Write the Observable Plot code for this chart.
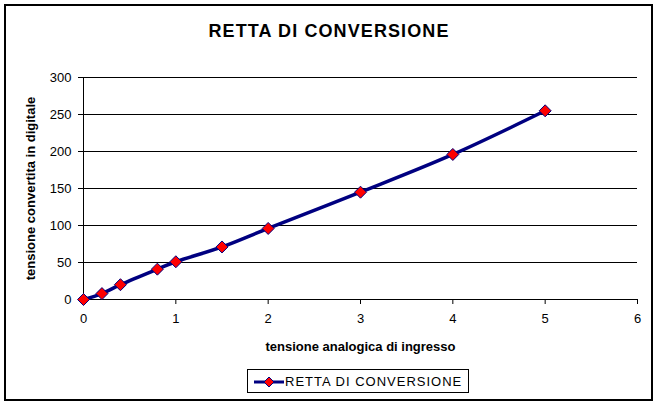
<!DOCTYPE html>
<html><head><meta charset="utf-8">
<script src="https://cdn.jsdelivr.net/npm/d3@7"></script>
<script src="https://cdn.jsdelivr.net/npm/@observablehq/plot@0.6"></script>
<style>
html,body{margin:0;padding:0;background:#fff;}
#wrap{position:relative;width:658px;height:405px;font-family:"Liberation Sans",Arial,sans-serif;}
#frame{position:absolute;left:4px;top:4px;width:645px;height:393px;border:2px solid #000;box-sizing:content-box;pointer-events:none;}
#title{position:absolute;left:0;width:658px;top:21px;text-align:center;font-weight:bold;font-size:18px;letter-spacing:1.1px;}
#legend{position:absolute;left:247px;top:369px;width:222px;height:24px;border:1px solid #000;box-sizing:border-box;font-size:13px;}
#legend svg{position:absolute;left:4px;top:4px;}
#legend span{position:absolute;left:37px;top:4px;letter-spacing:1px;}
#chart{position:absolute;left:0;top:0;}
</style></head>
<body><div id="wrap"><div id="chart"></div><div id="title">RETTA DI CONVERSIONE</div>
<div id="legend"><svg width="32" height="16"><line x1="2" y1="8" x2="32" y2="8" stroke="#000080" stroke-width="3"/><path d="M17,3 L22,8 L17,13 L12,8 Z" fill="#ff0000" stroke="#000080" stroke-width="1"/></svg><span>RETTA DI CONVERSIONE</span></div>
<div id="frame"></div></div>
<script>
const xValues = [0, 0.2, 0.4, 0.8, 1, 1.5, 2, 3, 4, 5];
const yValues = [0, 8, 20, 41, 51, 71, 96, 145, 196, 255];
const xTicks = [0, 1, 2, 3, 4, 5, 6];
const yTicks = [0, 50, 100, 150, 200, 250, 300];
const seriesName = "RETTA DI CONVERSIONE";
const xLabel = "tensione analogica di ingresso";
const yLabel = "tensione convertita in digitale";

const data = xValues.map((x, i) => ({x, y: yValues[i]}));
const diamond = {draw(ctx, size) { const s = Math.sqrt(size / Math.PI); ctx.moveTo(0,-s); ctx.lineTo(s,0); ctx.lineTo(0,s); ctx.lineTo(-s,0); ctx.closePath(); }};

const chart = Plot.plot({
  width: 658, height: 405,
  marginLeft: 83, marginRight: 21, marginTop: 77, marginBottom: 106,
  style: {fontFamily: '"Liberation Sans", Arial, sans-serif', fontSize: "13px", color: "#000", background: "transparent"},
  x: {domain: [0, 6], ticks: xTicks},
  y: {domain: [0, 300], ticks: yTicks},
  marks: [
    Plot.gridY(yTicks, {stroke: "#000", strokeOpacity: 1, strokeWidth: 1}),
    Plot.ruleX([0], {stroke: "#000", strokeWidth: 1}),
    Plot.ruleY([0], {stroke: "#000", strokeWidth: 1}),
    Plot.axisY(yTicks, {tickSize: 5, tickPadding: 7, fontSize: 13, label: null, stroke: "#000"}),
    Plot.axisX(xTicks, {tickSize: 5, tickPadding: 9, fontSize: 13, label: null, stroke: "#000"}),
    Plot.text([yLabel], {frameAnchor: "left", textAnchor: "middle", dx: -53, rotate: -90, fontWeight: "bold", fontSize: 13, text: d => d, style: {letterSpacing: "1.3px"}}),
    Plot.text([xLabel], {frameAnchor: "bottom", dy: 51, fontWeight: "bold", fontSize: 13, text: d => d, style: {letterSpacing: "1.3px"}}),
    Plot.line(data, {x: "x", y: "y", stroke: "#000080", strokeWidth: 3.5, curve: "catmull-rom"}),
    Plot.dot(data, {x: "x", y: "y", symbol: diamond, r: 6, fill: "#ff0000", stroke: "#000080", strokeWidth: 1})
  ]
});
document.getElementById("chart").appendChild(chart);
</script></body></html>
